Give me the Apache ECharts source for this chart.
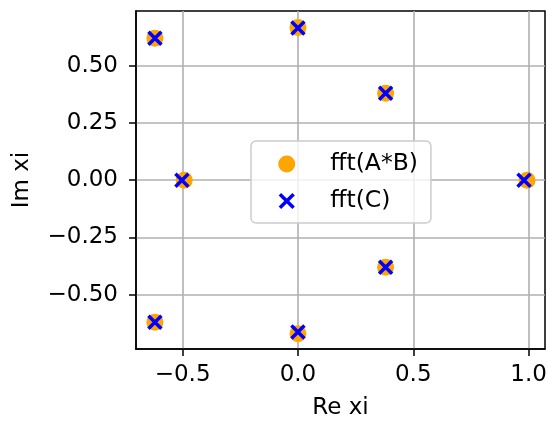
<!DOCTYPE html>
<html>
<head>
<meta charset="utf-8">
<script src="https://cdn.jsdelivr.net/npm/echarts@6/dist/echarts.min.js"></script>
<style>
html,body{margin:0;padding:0;background:#fff;}
#c{width:547px;height:423px;}
</style>
</head>
<body>
<div id="c"></div>
<script>
// Data (real, imaginary) pairs
const seriesNames = ['fft(A*B)', 'fft(C)'];
const fftABre = [0.993, 0.38, 0.0, -0.62, -0.493, -0.62, 0.0, 0.38];
const fftABim = [0.0, 0.38, 0.667, 0.62, 0.0, -0.62, -0.670, -0.38];
const fftCre  = [0.980, 0.38, 0.0, -0.62, -0.503, -0.62, 0.0, 0.38];
const fftCim  = [0.0, 0.38, 0.665, 0.62, 0.0, -0.62, -0.663, -0.38];
const xTicks = [-0.5, 0.0, 0.5, 1.0];
const yTicks = [-0.5, -0.25, 0.0, 0.25, 0.5];

const zip = (a, b) => a.map((v, i) => [v, b[i]]);
const xPath = 'path://M0,0L10,10M10,0L0,10';
const xLegendPath = 'path://M-1.2,-1.2M11.2,11.2M0,0L10,10M10,0L0,10';
const font = 'DejaVu Sans';
const fmt = d => v => (v < 0 ? '\u2212' : '') + Math.abs(v).toFixed(d);

const chart = echarts.init(document.getElementById('c'), null, {renderer: 'canvas'});
chart.setOption({
  animation: false,
  backgroundColor: '#fff',
  grid: {left: 136, right: 2, top: 11, bottom: 74, show: true, borderColor: '#000', borderWidth: 1.5,
         backgroundColor: 'transparent', containLabel: false, outerBoundsMode: 'none'},
  xAxis: {
    type: 'value', min: -0.702, max: 1.071,
    name: 'Re xi', nameLocation: 'middle', nameGap: 48,
    nameTextStyle: {fontFamily: font, fontSize: 23, color: '#000'},
    axisLine: {show: true, onZero: false, lineStyle: {color: '#000', width: 1.5}},
    axisTick: {show: true, length: 7, lineStyle: {color: '#000', width: 1.5}, customValues: xTicks},
    axisLabel: {customValues: xTicks, formatter: fmt(1), fontFamily: font, fontSize: 23, color: '#000', margin: 15},
    splitLine: {show: true, lineStyle: {color: '#b0b0b0', width: 1.6}}
  },
  yAxis: {
    type: 'value', min: -0.737, max: 0.739,
    name: 'Im xi', nameLocation: 'middle', nameGap: 102,
    nameTextStyle: {fontFamily: font, fontSize: 23, color: '#000'},
    axisLine: {show: true, onZero: false, lineStyle: {color: '#000', width: 1.5}},
    axisTick: {show: true, length: 7, lineStyle: {color: '#000', width: 1.5}, customValues: yTicks},
    axisLabel: {customValues: yTicks, formatter: fmt(2), fontFamily: font, fontSize: 23, color: '#000', margin: 18},
    splitLine: {show: true, lineStyle: {color: '#b0b0b0', width: 1.6}}
  },
  legend: {
    orient: 'vertical', left: 251, top: 141,
    padding: [11, 13, 10, 25.5],
    itemGap: 13, itemWidth: 17, itemHeight: 17,
    backgroundColor: 'rgba(255,255,255,0.8)', borderColor: '#cccccc', borderWidth: 1.5, borderRadius: 5,
    textStyle: {fontFamily: font, fontSize: 23.5, color: '#000', padding: [0, 0, 0, 30]},
    data: [
      {name: seriesNames[0], icon: 'circle', itemStyle: {color: '#ffa500', borderWidth: 0}},
      {name: seriesNames[1], icon: xLegendPath, itemStyle: {color: 'blue', borderColor: 'blue', borderWidth: 3.5}}
    ]
  },
  series: [
    {
      name: seriesNames[0], type: 'scatter', symbol: 'circle', symbolSize: 17,
      itemStyle: {color: '#ffa500', opacity: 1},
      data: zip(fftABre, fftABim), z: 3
    },
    {
      name: seriesNames[1], type: 'scatter', symbol: xPath, symbolSize: 13,
      itemStyle: {color: 'blue', borderColor: 'blue', borderWidth: 3.5, opacity: 1},
      data: zip(fftCre, fftCim), z: 4
    }
  ]
});
</script>
</body>
</html>
